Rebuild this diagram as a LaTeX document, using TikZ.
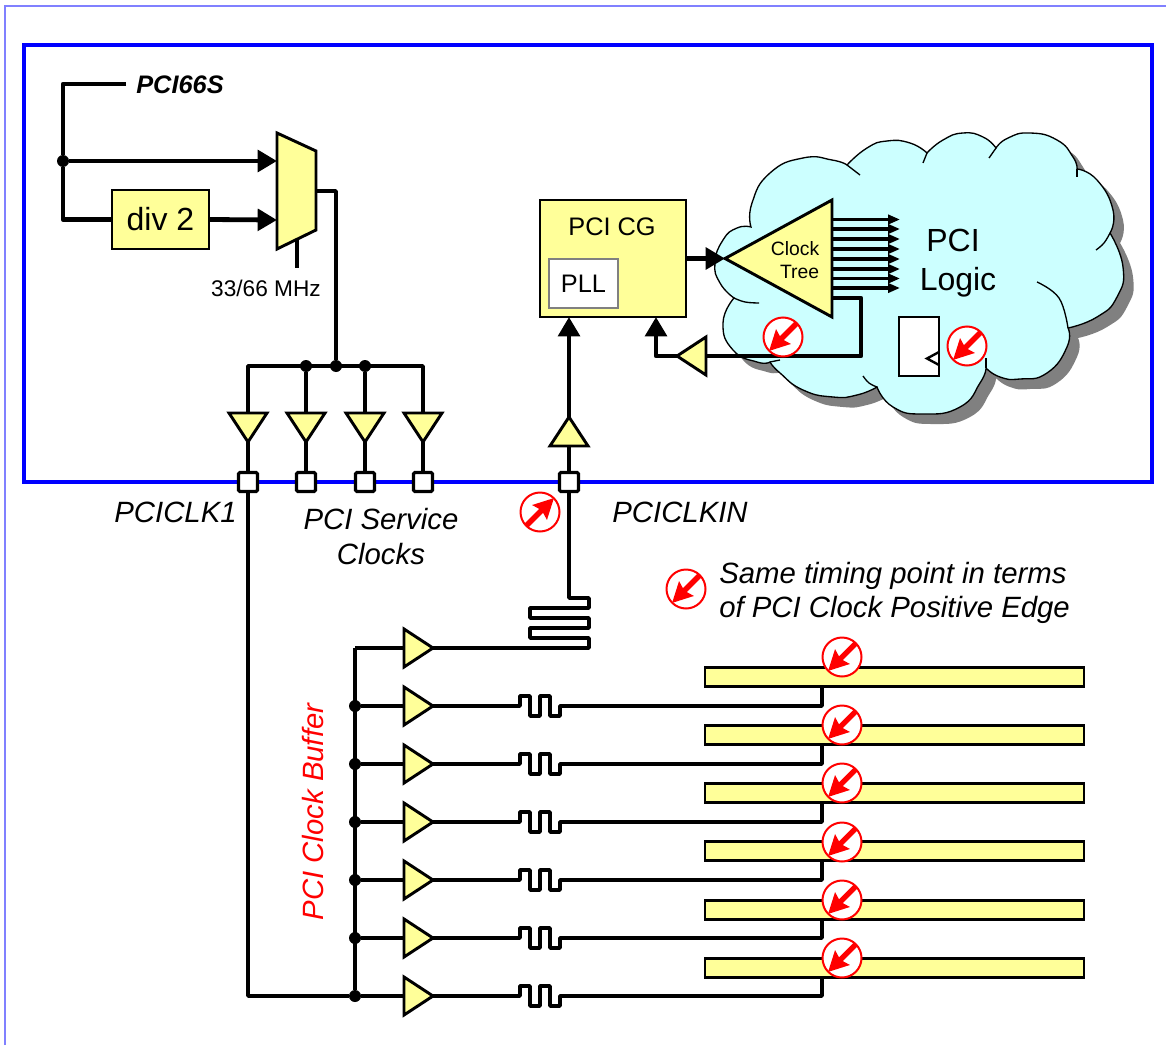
\documentclass[tikz,border=0pt]{standalone}
\usepackage{fontspec}
\usepackage{xcolor}
\usepackage{tikz}
\usetikzlibrary{arrows.meta, shapes.geometric, calc}
\setmainfont{Liberation Sans}
\definecolor{noteyellow}{RGB}{255, 255, 153}
\definecolor{notecyan}{RGB}{204, 255, 255}
\definecolor{noteshadow}{RGB}{128, 128, 128}
\definecolor{noteframe}{RGB}{128, 128, 255}
\definecolor{noteblue}{RGB}{0, 0, 255}
\definecolor{notered}{RGB}{255, 0, 0}
\newcommand{\sized}[2]{\fontsize{#1}{#2}\selectfont}
\newcommand{\cloudpath}{plot [smooth, tension=0.9] coordinates {(751,227) (752,203) (770,173) (803,158) (832,160) (847,165)}
    -- plot [smooth, tension=0.9] coordinates {(847,165) (867,148) (887,141) (910,143) (927,153)}
    -- plot [smooth, tension=0.9] coordinates {(927,153) (943,140) (963,133) (983,137) (996,148)}
    -- plot [smooth, tension=0.9] coordinates {(996,148) (1008,138) (1030,133) (1057,140) (1073,157) (1077,169)}
    -- plot [smooth, tension=0.9] coordinates {(1077,169) (1097,180) (1113,210) (1110,233)}
    -- plot [smooth, tension=0.9] coordinates {(1110,233) (1123,267) (1117,297) (1097,317) (1068,328)}
    -- plot [smooth, tension=0.9] coordinates {(1068,328) (1067,347) (1047,373) (1020,379) (1000,377) (986,368)}
    -- plot [smooth, tension=0.9] coordinates {(986,368) (980,383) (960,407) (923,414) (893,407) (877,387)}
    -- plot [smooth, tension=0.9] coordinates {(877,387) (857,395) (833,397) (803,390) (780,373) (770,362)}
    -- plot [smooth, tension=0.9] coordinates {(770,362) (757,362) (733,350) (723,323) (734,298)}
    -- plot [smooth, tension=0.9] coordinates {(734,298) (720,283) (715,263) (723,240) (737,228) (751,227)}
    -- cycle}
\tikzset{
    wire/.style={line width=2.8pt, line join=round},
    bus/.style={line width=3.6pt, line join=round},
    bigtip/.style={-{Triangle[length=14.5pt, width=16pt]}},
    yellowbox/.style={draw, fill=noteyellow, line width=2.2pt, inner sep=0pt, outer sep=0pt},
    padbox/.style={draw, fill=white, line width=2.4pt, rounded corners=1pt, minimum size=14.25pt, inner sep=0pt, outer sep=0pt},
    junction/.style={circle, fill=black, minimum size=9pt, inner sep=0pt, outer sep=0pt},
    buftri/.style={draw, fill=noteyellow, line width=2.2pt, isosceles triangle, isosceles triangle stretches,
        minimum height=21.75pt, minimum width=28.5pt, inner sep=0pt, outer sep=0pt, anchor=apex},
    label/.style={align=center, inner sep=0pt, font=\itshape\sized{22}{26}},
    pics/timing/.style={code={
        \draw[notered, fill=white, line width=1.5pt] (0,0) circle (19.5);
        \draw[notered, line width=4pt, -{Stealth[length=15pt, width=15pt, inset=2pt]}] (14,-14) -- (-14,14);
    }}
}
\begin{document}
\begin{tikzpicture}[x=0.75pt, y=-0.75pt]
        \useasboundingbox (0,0) rectangle (1166,1045);
        % Frames
        \draw[noteframe, line width=1.5pt] (5,1045) -- (5,6) -- (1166,6);
        \draw[noteblue, line width=2.6pt] (24,45) rectangle (1152,482);

        % Cloud
        \fill[noteshadow, shift={(10,10)}] \cloudpath;
        \draw[fill=notecyan, line width=1pt] \cloudpath;
        \draw[line width=1pt] (847,165) -- (860,175);
        \draw[line width=1pt] (927,153) -- (923,163);
        \draw[line width=1pt] (996,148) -- (989,158);
        \draw[line width=1pt] (1077,169) -- (1077,177);
        \draw[line width=1pt] plot [smooth, tension=0.7] coordinates {(1110,233) (1104,243) (1096,250)};
        \draw[line width=1pt] plot [smooth, tension=0.7] coordinates {(1037,282) (1059,298) (1068,328)};
        \draw[line width=1pt] (986,368) -- (986,358);
        \draw[line width=1pt] plot [smooth, tension=0.7] coordinates {(877,387) (869,383) (863,376)};
        \draw[line width=1pt] (770,362) -- (780,360);
        \draw[line width=1pt] plot [smooth, tension=0.7] coordinates {(734,298) (745,302) (759,303)};

        % Mux and divider
        \node[yellowbox, minimum width=72.75pt, minimum height=44.25pt] (div) at (160.5,219.5) {\sized{24}{28}div 2};
        \draw[yellowbox] (277,133) -- (316,151) -- (316,230) -- (277,249) -- cycle;
        \coordinate (muxa) at (277,161);
        \coordinate (muxb) at (277,220);
        \coordinate (muxout) at (316,191);
        \coordinate (muxsel) at (297,240);
        \node[junction] (split) at (63,161) {};
        \node[inner sep=0pt, font=\bfseries\itshape\sized{19}{23}] (pcis) at (180,85) {PCI66S};
        \coordinate (pcisend) at (126,84);
        \node[inner sep=0pt, font=\sized{17}{20}] (mhz) at (266,288) {33/66 MHz};
        \coordinate (selend) at (297,268);
        \draw[bus] (pcisend) -| (split);
        \draw[bus] (split) |- (div.west);
        \draw[bus, bigtip] (split) -- (muxa);
        \draw[bus, bigtip] (div.east) -- (muxb);
        \draw[bus] (muxsel) -- (selend);

        % Service clocks
        \foreach \x/\n in {248/1, 306/2, 365/3, 423/4} {
            \node[padbox] (pad\n) at (\x,482) {};
            \node[buftri, rotate=-90] (tbuf\n) at (\x,442) {};
            \draw[wire] (tbuf\n.apex) -- (pad\n.north);
        }
        \node[junction] (j2) at (306,366) {};
        \node[junction] (jm) at (336,366) {};
        \node[junction] (j3) at (365,366) {};
        \draw[wire] (muxout) -| (jm);
        \draw[wire] (tbuf1.lower side) |- (tbuf4.lower side |- jm) -- (tbuf4.lower side);
        \draw[wire] (j2) -- (tbuf2.lower side);
        \draw[wire] (j3) -- (tbuf3.lower side);
        \node[label] (clk1) at (175.5,512) {PCICLK1};
        \node[label] (svc) at (381,536.5) {PCI Service\\Clocks};

        % PCI CG
        \node[yellowbox, minimum width=109.5pt, minimum height=87.75pt] (cg) at (613,258.5) {};
        \node[inner sep=0pt, font=\sized{19}{23}] (cgtext) at (612,227) {PCI CG};
        \node[draw=noteshadow, fill=white, line width=1pt, minimum width=51.75pt, minimum height=36.75pt, inner sep=0pt, font=\sized{19}{23}] (pll) at (583.5,283.5) {PLL};
        \node[padbox] (padin) at (569,482) {};
        \node[buftri, rotate=90] (inbuf) at (569,417) {};
        \draw[bus] (padin.north) -- (inbuf.lower side);
        \draw[bus, bigtip] (inbuf.apex) -- (inbuf.apex |- cg.south);
        \node[label] (clkin) at (680,512) {PCICLKIN};

        % Clock tree
        \node[buftri, rotate=180, minimum height=80.25pt, minimum width=87.75pt] (tree) at (725,258.5) {};
        \node[inner sep=0pt, align=right, font=\sized{14.5}{17.5}] (treetext) at (795,260) {Clock\\Tree};
        \draw[bus, bigtip] (cg.east |- tree.apex) -- (tree.apex);
        \foreach \y/\n in {219.5/1, 229/2, 239/3, 249/4, 259/5, 269/6, 278.5/7, 288/8} {
            \coordinate (out\n) at (900,\y);
            \draw[wire, -{Triangle[length=9pt, width=7pt]}] (tree.lower side |- out\n) -- (out\n);
        }
        \node[buftri, rotate=180] (fbbuf) at (677,356) {};
        \coordinate (fbtop) at (832,298);
        \coordinate (fbcorner) at (861,356);
        \draw[bus] (fbtop) -| (fbcorner) -- (fbbuf.lower side);
        \draw[bus, bigtip] (fbbuf.apex) -| (656,317);
        \node[inner sep=0pt, font=\sized{24}{29}] (pcitext) at (953,240) {PCI};
        \node[inner sep=0pt, font=\sized{24}{29}] (logictext) at (958,282) {Logic};
        \draw[fill=white, line width=1.8pt] (899,317) rectangle (939,376);
        \draw[line width=1.8pt] (939,352) -- (927,358.5) -- (939,365);

        % Clock buffer rows
        \node[buftri] (buf0) at (433,648) {};
        \foreach \y/\b/\n in {706/677/1, 764/735/2, 822/793/3, 880/851/4, 938/910/5, 996/968/6} {
            \node[yellowbox, minimum width=284.25pt, minimum height=14.25pt] (bar\n) at (894.5,\b) {};
            \node[buftri] (buf\n) at (433,\y) {};
            \node[junction] (j\n) at (355,\y) {};
            \coordinate (tap\n) at (822,\b);
            \draw[wire] (j\n) -- (buf\n.lower side);
            \draw[wire] (buf\n.apex) -- ++(87,0) -- ++(0,-10) -- ++(10,0) -- ++(0,20) -- ++(10,0)
                -- ++(0,-20) -- ++(10,0) -- ++(0,20) -- ++(10,0) -- ++(0,-10) -| (tap\n |- bar\n.south);
        }
        \draw[wire] (355,648) -- (j6);
        \draw[wire] (buf0.lower side) -- (355,648);
        \draw[wire] (pad1.south) |- (j6);
        \draw[wire] (buf0.apex) -- (589,648) -- (589,638) -- (530,638) -- (530,628) -- (589,628) -- (589,618)
            -- (530,618) -- (530,608) -- (589,608) -- (589,598) -| (padin.south);
        \node[label, text=notered, rotate=90] (buflabel) at (313,812) {PCI Clock Buffer};

        % Timing points
        \foreach \x/\y in {783/337, 967/346, 686/589, 842/657, 842/725, 842/783, 842/842, 842/900, 842/958} {
            \pic at (\x,\y) {timing};
        }
        \pic[rotate=180] at (540,512) {timing};
        \node[label, align=left, anchor=west] (same) at (719,593) {Same timing point in terms\\of PCI Clock Positive Edge};
    \end{tikzpicture}
\end{document}
